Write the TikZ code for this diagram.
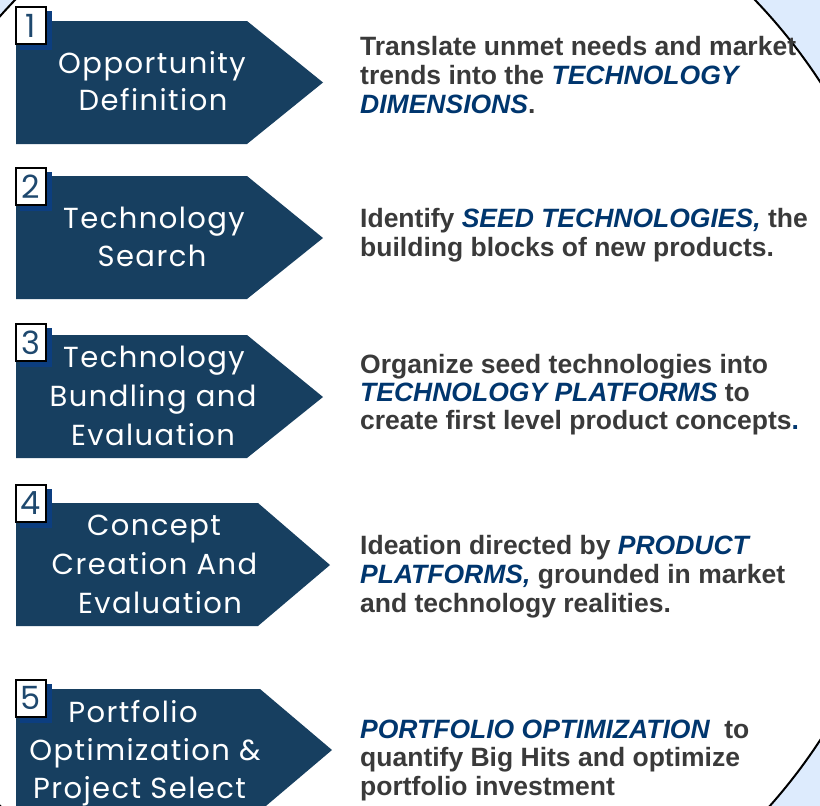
\documentclass[tikz,border=0pt]{standalone}
\usepackage{fontspec}
\newfontfamily\boxfont[LetterSpace=5]{Poppins}
\newfontfamily\numfont{Poppins}
\newfontfamily\bodyfont{Liberation Sans}
\definecolor{skyback}{RGB}{221,235,253}
\definecolor{stepfill}{RGB}{23,63,96}
\definecolor{shadowblue}{RGB}{12,62,128}
\definecolor{numblue}{RGB}{30,72,110}
\definecolor{bodygray}{RGB}{58,58,58}
\definecolor{keyblue}{RGB}{0,54,110}
\newcommand{\kw}[1]{\textcolor{keyblue}{\itshape #1}}
\begin{document}
\begin{tikzpicture}[x=1pt,y=-1pt,
  chevron/.style={fill=stepfill},
  steplabel/.style={anchor=base, inner sep=0pt, text=white,
    font=\boxfont\fontsize{29}{38}\selectfont},
  numshadow/.style={fill=shadowblue, minimum width=32pt, minimum height=39pt, inner sep=0pt},
  numbox/.style={draw=black, line width=2pt, fill=white,
    minimum width=30pt, minimum height=37pt, inner sep=0pt, text=numblue,
    font=\numfont\fontsize{32}{32}\selectfont},
  bodyline/.style={anchor=base west, inner sep=0pt, text=bodygray,
    font=\bodyfont\bfseries\fontsize{26.5}{29}\selectfont}
]
\useasboundingbox (0,0) rectangle (820,806);
\clip (0,0) rectangle (820,806);

% backdrop and the large white oval
\fill[skyback] (0,0) rectangle (820,806);
\draw[line width=2pt, fill=white] (385,411) ellipse [x radius=532, y radius=572];

% step arrows
\fill[chevron] (16,21)  -- (247,21)  -- (323,82.5) -- (247,144) -- (16,144) -- cycle;
\fill[chevron] (16,176) -- (247,176) -- (323,238)  -- (247,299) -- (16,299) -- cycle;
\fill[chevron] (16,335) -- (247,335) -- (323,397)  -- (247,458) -- (16,458) -- cycle;
\fill[chevron] (16,503) -- (258,503) -- (330,565)  -- (258,626) -- (16,626) -- cycle;
\fill[chevron] (16,689) -- (260,689) -- (332,750)  -- (260,811) -- (16,811) -- cycle;

% step labels
\node[steplabel] (s1a) at (152,73)  {Opportunity};
\node[steplabel] (s1b) at (153,110) {Definition};
\node[steplabel] (s2a) at (154,228) {Technology};
\node[steplabel] (s2b) at (152,266) {Search};
\node[steplabel] (s3a) at (154,367) {Technology};
\node[steplabel] (s3b) at (153,406) {Bundling and};
\node[steplabel] (s3c) at (153,445) {Evaluation};
\node[steplabel] (s4a) at (154,535) {Concept};
\node[steplabel] (s4b) at (154.5,574) {Creation And};
\node[steplabel] (s4c) at (160,613) {Evaluation};
\node[steplabel] (s5a) at (133,722) {Portfolio};
\node[steplabel] (s5b) at (145,760) {Optimization \&};
\node[steplabel] (s5c) at (139.5,798) {Project Select};

% step numbers, each on an offset blue shadow
\node[numshadow] (n1s) at (36,30.5)  {};
\node[numshadow] (n2s) at (36,191.5) {};
\node[numshadow] (n3s) at (36,347.5) {};
\node[numshadow] (n4s) at (36,508.5) {};
\node[numshadow] (n5s) at (36,703)   {};
\node[numbox] (n1) at (31,25.5)  {1};
\node[numbox] (n2) at (31,186.5) {2};
\node[numbox] (n3) at (31,342.5) {3};
\node[numbox] (n4) at (31,503.5) {4};
\node[numbox] (n5) at (31,698)   {5};

% descriptions
\node[bodyline] (d1a) at (360,55)  {Translate unmet needs and market};
\node[bodyline] (d1b) at (360,84)  {trends into the \kw{TECHNOLOGY}};
\node[bodyline] (d1c) at (360,113) {\kw{DIMENSIONS}.};

\node[bodyline] (d2a) at (360,227) {Identify \kw{SEED TECHNOLOGIES,} the};
\node[bodyline] (d2b) at (360,256) {building blocks of new products.};

\node[bodyline] (d3a) at (360,373) {Organize seed technologies into};
\node[bodyline] (d3b) at (360,401) {\kw{TECHNOLOGY PLATFORMS} to};
\node[bodyline] (d3c) at (360,429) {create first level product concepts\textcolor{keyblue}{.}};

\node[bodyline] (d4a) at (360,554) {Ideation directed by \kw{PRODUCT}};
\node[bodyline] (d4b) at (360,583) {\kw{PLATFORMS,} grounded in market};
\node[bodyline] (d4c) at (360,612) {and technology realities.};

\node[bodyline] (d5a) at (360,738) {\kw{PORTFOLIO OPTIMIZATION}\ \ to};
\node[bodyline] (d5b) at (360,766) {quantify Big Hits and optimize};
\node[bodyline] (d5c) at (360,795) {portfolio investment};
\end{tikzpicture}
\end{document}
